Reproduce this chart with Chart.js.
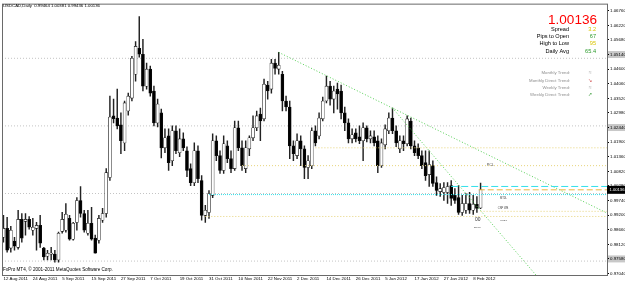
<!DOCTYPE html>
<html><head><meta charset="utf-8">
<script src="https://cdn.jsdelivr.net/npm/chart.js@4.4.1/dist/chart.umd.min.js"></script>
<style>html,body{margin:0;padding:0;background:#fff;overflow:hidden}#wrap{width:625px;height:282px}</style>
</head><body><div id="wrap"><canvas id="c" width="625" height="282"></canvas></div>
<script>
// ---------- data ----------
const symbolTitle = "USDCAD,Daily";
const xTickIndex = [0,8,16,24,32,40,48,56,64,72,80,88,96,104,112,120,128];
const xTickLabels = ["12 Aug 2011","24 Aug 2011","5 Sep 2011","15 Sep 2011","27 Sep 2011","7 Oct 2011","19 Oct 2011","31 Oct 2011","10 Nov 2011","22 Nov 2011","2 Dec 2011","14 Dec 2011","26 Dec 2011","5 Jan 2012","17 Jan 2012","27 Jan 2012","8 Feb 2012"];
const openP = [0.9838,0.9871,0.9798,0.9824,0.9801,0.9904,0.9897,0.9904,0.9864,0.9871,
0.9882,0.9798,0.9768,0.9776,0.9776,0.9754,0.9860,0.9864,0.9908,0.9831,
0.9893,0.9974,0.9926,0.9853,0.9890,0.9835,0.9827,0.9901,0.9926,1.0059,
1.0287,1.0279,1.0254,1.0187,1.0305,1.0353,1.0441,1.0537,1.0515,1.0397,
1.0460,1.0379,1.0261,1.0298,1.0169,1.0213,1.0121,1.0232,1.0151,1.0202,
1.0158,1.0092,1.0040,1.0158,1.0048,0.9919,0.9930,0.9993,1.0195,1.0140,
1.0085,1.0176,1.0129,1.0092,1.0243,1.0169,1.0092,1.0165,1.0206,1.0243,
1.0294,1.0276,1.0401,1.0386,1.0482,1.0460,1.0441,1.0342,1.0320,1.0176,
1.0140,1.0195,1.0165,1.0096,1.0103,1.0232,1.0213,1.0276,1.0342,1.0397,
1.0349,1.0386,1.0379,1.0298,1.0261,1.0202,1.0224,1.0210,1.0195,1.0243,
1.0202,1.0210,1.0195,1.0103,1.0180,1.0232,1.0279,1.0232,1.0165,1.0195,
1.0184,1.0268,1.0176,1.0169,1.0140,1.0114,1.0070,1.0103,1.0040,1.0007,
1.0004,1.0004,1.0029,0.9993,0.9985,0.9930,0.9938,0.9963,0.9938,0.9960,
0.99464];
const highP = [0.9919,0.9912,0.9879,0.9838,0.9938,0.9926,0.9926,0.9915,0.9908,0.9893,
0.9919,0.9801,0.9790,0.9801,0.9790,0.9857,0.9930,0.9963,0.9919,0.9893,
0.9985,1.0026,0.9938,0.9938,0.9949,0.9846,0.9919,0.9945,1.0092,1.0360,
1.0349,1.0386,1.0298,1.0342,1.0371,1.0507,1.0562,1.0654,1.0570,1.0482,
1.0471,1.0397,1.0349,1.0312,1.0239,1.0239,1.0250,1.0250,1.0239,1.0224,
1.0173,1.0110,1.0187,1.0176,1.0066,0.9956,1.0011,1.0221,1.0213,1.0158,
1.0213,1.0195,1.0158,1.0268,1.0268,1.0195,1.0195,1.0213,1.0287,1.0305,
1.0316,1.0423,1.0415,1.0496,1.0496,1.0522,1.0452,1.0360,1.0342,1.0195,
1.0221,1.0213,1.0176,1.0140,1.0243,1.0250,1.0298,1.0357,1.0434,1.0415,
1.0397,1.0408,1.0401,1.0320,1.0276,1.0239,1.0239,1.0250,1.0261,1.0250,
1.0232,1.0232,1.0213,1.0202,1.0254,1.0298,1.0316,1.0250,1.0213,1.0213,
1.0287,1.0279,1.0195,1.0184,1.0158,1.0158,1.0158,1.0121,1.0062,1.0037,
1.0040,1.0040,1.0048,1.0018,1.0029,0.9993,1.0000,1.0004,0.9993,0.9989,
1.00381];
const lowP = [0.9820,0.9783,0.9783,0.9790,0.9794,0.9820,0.9846,0.9868,0.9846,0.9790,
0.9801,0.9754,0.9754,0.9754,0.9746,0.9746,0.9853,0.9857,0.9827,0.9827,
0.9864,0.9912,0.9857,0.9846,0.9827,0.9779,0.9816,0.9893,0.9912,1.0048,
1.0261,1.0239,1.0147,1.0158,1.0290,1.0342,1.0415,1.0504,1.0379,1.0386,
1.0360,1.0250,1.0246,1.0132,1.0151,1.0085,1.0103,1.0147,1.0136,1.0158,
1.0062,1.0029,1.0029,1.0040,0.9901,0.9893,0.9908,0.9985,1.0121,1.0074,
1.0074,1.0114,1.0077,1.0085,1.0158,1.0085,1.0077,1.0140,1.0195,1.0232,
1.0195,1.0268,1.0349,1.0371,1.0441,1.0441,1.0305,1.0305,1.0129,1.0121,
1.0129,1.0103,1.0055,1.0055,1.0092,1.0176,1.0202,1.0268,1.0335,1.0327,
1.0298,1.0312,1.0276,1.0232,1.0187,1.0187,1.0191,1.0184,1.0121,1.0191,
1.0187,1.0176,1.0077,1.0096,1.0165,1.0221,1.0221,1.0173,1.0151,1.0158,
1.0176,1.0165,1.0140,1.0129,1.0092,1.0048,1.0026,1.0026,0.9993,0.9989,
0.9974,0.9963,0.9956,0.9963,0.9923,0.9919,0.9926,0.9926,0.9923,0.9930,
0.99436];
const closeP = [0.9871,0.9790,0.9864,0.9805,0.9904,0.9835,0.9904,0.9875,0.9875,0.9882,
0.9816,0.9765,0.9779,0.9779,0.9754,0.9853,0.9904,0.9923,0.9831,0.9890,
0.9974,0.9926,0.9864,0.9890,0.9831,0.9779,0.9908,0.9926,1.0077,1.0283,
1.0276,1.0250,1.0195,1.0335,1.0360,1.0500,1.0544,1.0515,1.0397,1.0460,
1.0371,1.0261,1.0331,1.0169,1.0206,1.0114,1.0232,1.0158,1.0202,1.0169,
1.0085,1.0040,1.0158,1.0055,0.9919,0.9938,1.0000,1.0195,1.0140,1.0085,
1.0184,1.0129,1.0092,1.0243,1.0169,1.0103,1.0169,1.0206,1.0243,1.0287,
1.0268,1.0404,1.0379,1.0482,1.0463,1.0474,1.0342,1.0320,1.0176,1.0147,
1.0195,1.0165,1.0096,1.0121,1.0232,1.0187,1.0279,1.0342,1.0397,1.0349,
1.0379,1.0368,1.0298,1.0261,1.0202,1.0217,1.0202,1.0195,1.0243,1.0202,
1.0213,1.0187,1.0103,1.0187,1.0239,1.0279,1.0232,1.0187,1.0195,1.0184,
1.0276,1.0176,1.0151,1.0140,1.0103,1.0066,1.0107,1.0037,1.0011,1.0018,
1.0022,1.0026,0.9982,0.9974,0.9930,0.9963,0.9963,0.9938,0.9960,0.9945,
1.00136];
const yTickValues = [0.9704,0.9758,0.9812,0.9866,0.9920,0.9974,1.0028,1.0082,1.0136,1.0190,1.0244,1.0298,1.0352,1.0406,1.0460,1.0514,1.0568,1.0622,1.0676];
const highlightedTicks = [0.9758,1.0244,1.0514];
const levelPrices   = [1.05,1.025,1.00,0.975,1.0169,1.0103,0.9996,0.9915,0.9934,1.0026];
const levelStartIdx = [null,null,null,null,85,65,56,55,130,122];
const trendAnchorIdx = [[75,106],[106,116]];
const panelLabels = ["Spread","Pips to Open","High to Low","Daily Avg"];
const panelValues = ["3.2","67","95","65.4"];
const trendLabels = ["Monthly Trend:","Monthly Direct Trend:","Weekly Trend:","Weekly Direct Trend:"];
const trendGlyphs = ["\u2248","\u2198","\u2248","\u2197"];
const noteTexts  = ["PCL","MTDL","CNP WB","WTDL","00","BUCC"];
const noteIdx    = [131.7,135.3,134.7,135.3,128.5,128.2];
const notePrices = [1.0107,0.9982,0.9945,0.9901,0.9904,0.9875];

// ---------- styles / layout ----------
const FONT = '"Liberation Sans", Arial, sans-serif';
const X_MIN = -0.4, X_MAX = 164.45, Y_MIN = 0.969853, Y_MAX = 1.070221;
const levelStyles = [
 {c:'#c4c4c4',d:[1,2]},{c:'#c4c4c4',d:[1,2]},{c:'#c4c4c4',d:[1,2]},{c:'#c4c4c4',d:[1,2]},
 {c:'#e6d37a',d:[1,2]},{c:'#e6d37a',d:[1,2]},{c:'#33e0ea',d:[1,1]},{c:'#e6d37a',d:[1,2]},
 {c:'#e6d37a',d:[1,2]},{c:'#33e0ea',d:[7,3]}];
const noteWidths = [7,7,10.5,7,5.5,6.7];
const noteColors = ['#444','#444','#444','#444','#333','#444'];
const panelValueColors = ['#d9c400','#2a9a2a','#d9c400','#2a9a2a'];
const glyphColors = ['#999','#d05050','#999','#40a040'];

Chart.defaults.font.family = FONT;
const idx = openP.map((_, i) => i);
const last = closeP.length - 1;

const datasets = [];
levelPrices.forEach((p, k) => {
  const s = levelStartIdx[k] === null ? X_MIN : levelStartIdx[k];
  datasets.push({type:'line', data:[{x:s,y:p},{x:X_MAX,y:p}], borderColor:levelStyles[k].c,
    borderDash:levelStyles[k].d, borderWidth:1, pointRadius:0, order: k < 4 ? 5 : 0});
});
datasets.push({type:'line', data:[{x:last-0.5,y:closeP[last]},{x:X_MAX,y:closeP[last]}],
  borderColor:'#e8b840', borderDash:[6,3], borderWidth:1, pointRadius:0, order:0});
trendAnchorIdx.forEach(([a,b]) => {
  const slope = (highP[b]-highP[a])/(b-a);
  datasets.push({type:'line', data:[{x:a,y:highP[a]},{x:X_MAX,y:highP[a]+slope*(X_MAX-a)}],
    borderColor:'#55d055', borderDash:[1,2], borderWidth:1, pointRadius:0, order:0});
});
datasets.push({type:'bar', data: idx.map(i => ({x:i, y:[lowP[i], highP[i]]})),
  backgroundColor:'#222', barThickness:0.8, grouped:false, order:3});
datasets.push({type:'bar', data: idx.map(i => ({x:i, y:[openP[i], closeP[i]]})),
  backgroundColor: c => closeP[c.dataIndex] >= openP[c.dataIndex] ? '#ffffff' : '#000000',
  borderColor:'#111', borderWidth:0.6, borderSkipped:false, barThickness:3, minBarLength:1,
  grouped:false, order:2});

function fitText(ctx, text, x, y, w, align, color, base) {
  ctx.save();
  ctx.font = '10px ' + FONT;
  const m = ctx.measureText(text).width;
  ctx.font = (10 * w / m).toFixed(2) + 'px ' + FONT;
  ctx.fillStyle = color; ctx.textAlign = align; ctx.textBaseline = base || 'middle';
  ctx.fillText(text, x, y);
  ctx.restore();
}
function sizedText(ctx, text, x, y, size, align, color) {
  ctx.save();
  ctx.font = size + 'px ' + FONT; ctx.fillStyle = color; ctx.textAlign = align; ctx.textBaseline = 'middle';
  ctx.fillText(text, x, y); ctx.restore();
}

const decor = {
  id:'decor',
  beforeDraw(chart) {
    const {ctx, scales:{y}} = chart;
    ctx.save(); ctx.fillStyle = '#fff'; ctx.fillRect(0,0,chart.width,chart.height);
    ctx.fillStyle = '#c8c8c8';
    highlightedTicks.forEach(v => { const py = y.getPixelForValue(v); ctx.fillRect(608, py-3.5, 17, 7); });
    ctx.restore();
  },
  afterDraw(chart) {
    const {ctx, chartArea:a, scales:{x, y}} = chart;
    ctx.save();
    ctx.strokeStyle = '#6a6a6a'; ctx.lineWidth = 1;
    ctx.strokeRect(a.left + 0.5, a.top + 0.5, a.right - a.left, a.bottom - a.top);
    ctx.restore();
    const t = symbolTitle + '  ' + [openP[last],highP[last],lowP[last],closeP[last]].map(v=>v.toFixed(5)).join(' ');
    fitText(ctx, t, 3, 5.5, 97, 'left', '#000');
    fitText(ctx, 'FxPro MT4, \u00a9 2001-2011 MetaQuotes Software Corp.', 3, 270, 110, 'left', '#000');
    fitText(ctx, closeP[last].toFixed(5), 597, 20.5, 49, 'right', '#ff0000');
    const rowsY = [29, 36, 43.5, 51];
    panelLabels.forEach((s, k) => {
      sizedText(ctx, s, 569, rowsY[k], 5.6, 'right', '#000');
      sizedText(ctx, panelValues[k], 596, rowsY[k], 5.6, 'right', panelValueColors[k]);
    });
    const trY = [73, 80.5, 88, 95];
    trendLabels.forEach((s, k) => {
      sizedText(ctx, s, 570, trY[k], 4.3, 'right', '#8c8c8c');
      sizedText(ctx, trendGlyphs[k], 590, trY[k], 5, 'center', glyphColors[k]);
    });
    noteTexts.forEach((s, k) => {
      fitText(ctx, s, x.getPixelForValue(noteIdx[k]), y.getPixelForValue(notePrices[k]), noteWidths[k], 'left', noteColors[k]);
    });
    const py = y.getPixelForValue(closeP[last]);
    ctx.save(); ctx.fillStyle = '#000'; ctx.fillRect(607, py-4, 18, 8); ctx.restore();
    fitText(ctx, closeP[last].toFixed(5), 609.5, py, 15, 'left', '#fff');
  }
};

new Chart(document.getElementById('c'), {
  type:'bar',
  data:{datasets},
  options:{
    responsive:false, animation:false, devicePixelRatio:1,
    layout:{padding:{left:2, top:2, right:0, bottom:0}},
    plugins:{legend:{display:false}, tooltip:{enabled:false}},
    scales:{
      x:{type:'linear', min:X_MIN, max:X_MAX, offset:false, position:'bottom',
        afterFit: s => { s.height = 7; },
        afterBuildTicks: s => { s.ticks = xTickIndex.map(v => ({value:v})); },
        grid:{display:false, drawTicks:false, offset:false}, border:{display:false},
        ticks:{autoSkip:false, maxRotation:0, minRotation:0, align:'start', padding:1,
          color:'#000', font:{size:4.4},
          callback: v => { const k = xTickIndex.indexOf(v); return k >= 0 ? xTickLabels[k] : ''; }}},
      y:{type:'linear', min:Y_MIN, max:Y_MAX, position:'right',
        afterFit: s => { s.width = 18; },
        afterBuildTicks: s => { s.ticks = yTickValues.map(v => ({value:v})); },
        grid:{display:true, drawOnChartArea:false, drawTicks:true, tickLength:2, color:'#000'},
        border:{display:false},
        ticks:{autoSkip:false, padding:1, color:'#000', font:{size:4.4}, callback: v => v.toFixed(5)}}
    }
  },
  plugins:[decor]
});
</script></body></html>
